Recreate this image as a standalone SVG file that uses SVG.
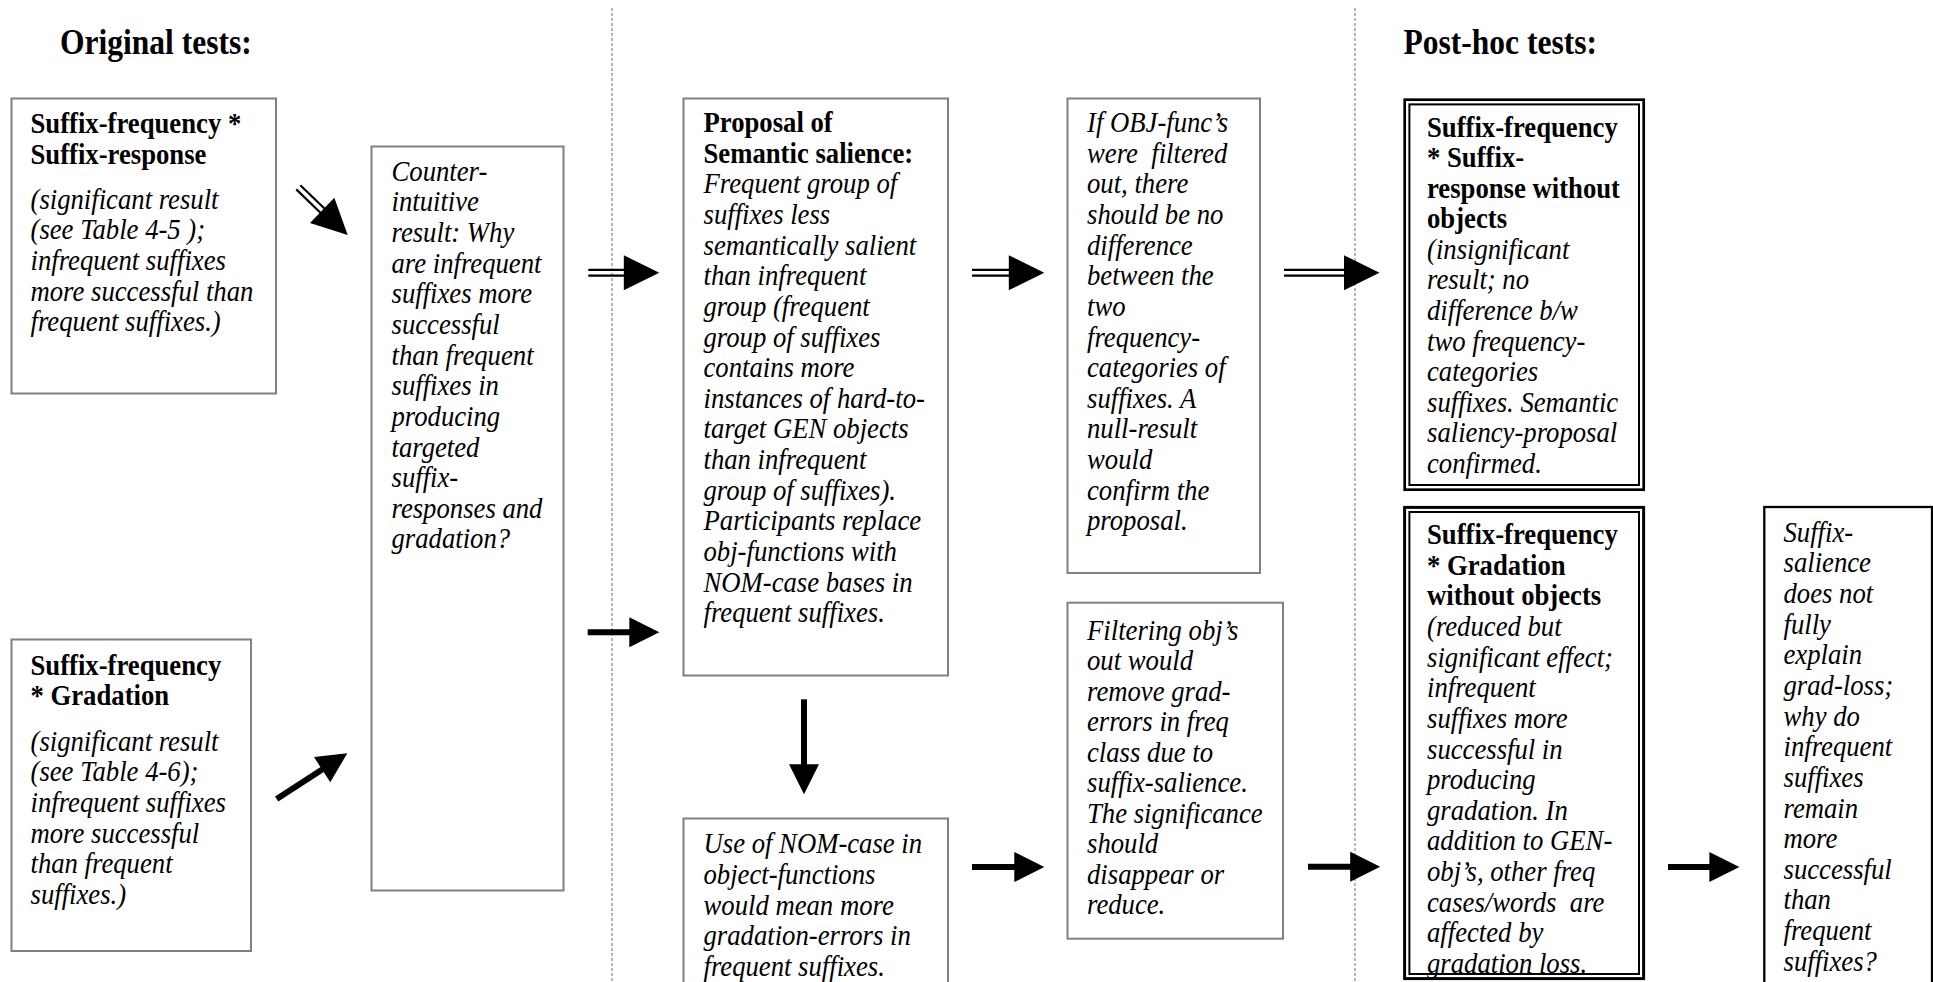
<svg xmlns="http://www.w3.org/2000/svg" xmlns:xlink="http://www.w3.org/1999/xlink" width="1933" height="982" viewBox="0 0 1933 982">
<style>
.box{fill:#fff;stroke:#808080;stroke-width:2}
.bx9{fill:#fff;stroke:#000;stroke-width:2.3}
.dbo{fill:#fff;stroke:#000;stroke-width:2.7}
.dbi{fill:none;stroke:#000;stroke-width:2}
.t{font-family:"Liberation Serif","Times New Roman",serif;font-size:29.9px;fill:#000}
.b{font-weight:bold}
.i{font-style:italic}
.title{font-family:"Liberation Serif","Times New Roman",serif;font-size:35.3px;font-weight:bold;fill:#000}
.div{stroke:#888;stroke-width:1.2;stroke-dasharray:3 2;fill:none}
.sh{stroke:#000;stroke-width:6}
.dl{stroke:#000;stroke-width:2.2}
.hd{fill:#000}
</style>
<defs>
<path id="h1" class="hd" d="M-30,-15 L0,0 L-30,15 Z"/>
<path id="h2" class="hd" d="M-35.5,-17.5 L0,0 L-35.5,17.5 Z"/>
</defs>
<rect width="1933" height="982" fill="#fff"/>
<g id="dividers">
<line class="div" x1="612" y1="8" x2="612" y2="982"/>
<line class="div" x1="1355" y1="8" x2="1355" y2="982"/>
</g>
<g id="titles">
<text class="title" transform="translate(60,0) scale(0.893,1)" x="0" y="54">Original tests:</text>
<text class="title" transform="translate(1403.5,0) scale(0.893,1)" x="0" y="54">Post-hoc tests:</text>
</g>
<g id="n1">
<rect class="box" x="11.5" y="98.5" width="264.5" height="295"/>
<text class="t" transform="translate(30.5,0) scale(0.893,1)"><tspan class="b" x="0" y="133.5">Suffix-frequency *</tspan><tspan class="b" x="0" y="164.2">Suffix-response</tspan><tspan class="i" x="0" y="208.7">(significant result</tspan><tspan class="i" x="0" y="239.4">(see Table 4-5 );</tspan><tspan class="i" x="0" y="270">infrequent suffixes</tspan><tspan class="i" x="0" y="300.7">more successful than</tspan><tspan class="i" x="0" y="331.3">frequent suffixes.)</tspan></text>
</g>
<g id="n2">
<rect class="box" x="11.5" y="639.5" width="239.5" height="311.5"/>
<text class="t" transform="translate(30.5,0) scale(0.893,1)"><tspan class="b" x="0" y="674.6">Suffix-frequency</tspan><tspan class="b" x="0" y="705.2">* Gradation</tspan><tspan class="i" x="0" y="750.6">(significant result</tspan><tspan class="i" x="0" y="781.3">(see Table 4-6);</tspan><tspan class="i" x="0" y="811.9">infrequent suffixes</tspan><tspan class="i" x="0" y="842.6">more successful</tspan><tspan class="i" x="0" y="873.2">than frequent</tspan><tspan class="i" x="0" y="903.9">suffixes.)</tspan></text>
</g>
<g id="n3">
<rect class="box" x="371.5" y="146.5" width="192" height="744"/>
<text class="t i" transform="translate(391.5,0) scale(0.893,1)"><tspan x="0" y="180.7">Counter-</tspan><tspan x="0" y="211.35">intuitive</tspan><tspan x="0" y="242">result: Why</tspan><tspan x="0" y="272.65">are infrequent</tspan><tspan x="0" y="303.3">suffixes more</tspan><tspan x="0" y="333.95">successful</tspan><tspan x="0" y="364.6">than frequent</tspan><tspan x="0" y="395.25">suffixes in</tspan><tspan x="0" y="425.9">producing</tspan><tspan x="0" y="456.55">targeted</tspan><tspan x="0" y="487.2">suffix-</tspan><tspan x="0" y="517.85">responses and</tspan><tspan x="0" y="548.5">gradation?</tspan></text>
</g>
<g id="n4">
<rect class="box" x="683.5" y="98.5" width="264.5" height="577"/>
<text class="t" transform="translate(703.5,0) scale(0.893,1)"><tspan class="b" x="0" y="132">Proposal of</tspan><tspan class="b" x="0" y="162.65">Semantic salience:</tspan><tspan class="i" x="0" y="193.3">Frequent group of</tspan><tspan class="i" x="0" y="223.95">suffixes less</tspan><tspan class="i" x="0" y="254.6">semantically salient</tspan><tspan class="i" x="0" y="285.25">than infrequent</tspan><tspan class="i" x="0" y="315.9">group (frequent</tspan><tspan class="i" x="0" y="346.55">group of suffixes</tspan><tspan class="i" x="0" y="377.2">contains more</tspan><tspan class="i" x="0" y="407.85">instances of hard-to-</tspan><tspan class="i" x="0" y="438.5">target GEN objects</tspan><tspan class="i" x="0" y="469.15">than infrequent</tspan><tspan class="i" x="0" y="499.8">group of suffixes).</tspan><tspan class="i" x="0" y="530.45">Participants replace</tspan><tspan class="i" x="0" y="561.1">obj-functions with</tspan><tspan class="i" x="0" y="591.75">NOM-case bases in</tspan><tspan class="i" x="0" y="622.4">frequent suffixes.</tspan></text>
</g>
<g id="n5">
<rect class="box" x="683.5" y="818.5" width="264.5" height="200"/>
<text class="t i" transform="translate(703.5,0) scale(0.893,1)"><tspan x="0" y="853.5">Use of NOM-case in</tspan><tspan x="0" y="884.15">object-functions</tspan><tspan x="0" y="914.8">would mean more</tspan><tspan x="0" y="945.45">gradation-errors in</tspan><tspan x="0" y="976.1">frequent suffixes.</tspan></text>
</g>
<g id="n6">
<rect class="box" x="1067.5" y="98.5" width="192.5" height="474.5"/>
<text class="t i" xml:space="preserve" transform="translate(1087,0) scale(0.893,1)"><tspan x="0" y="132">If OBJ-func’s</tspan><tspan x="0" y="162.65">were  filtered</tspan><tspan x="0" y="193.3">out, there</tspan><tspan x="0" y="223.95">should be no</tspan><tspan x="0" y="254.6">difference</tspan><tspan x="0" y="285.25">between the</tspan><tspan x="0" y="315.9">two</tspan><tspan x="0" y="346.55">frequency-</tspan><tspan x="0" y="377.2">categories of</tspan><tspan x="0" y="407.85">suffixes. A</tspan><tspan x="0" y="438.5">null-result</tspan><tspan x="0" y="469.15">would</tspan><tspan x="0" y="499.8">confirm the</tspan><tspan x="0" y="530.45">proposal.</tspan></text>
</g>
<g id="n7">
<rect class="box" x="1067.5" y="602.7" width="215.5" height="336"/>
<text class="t i" transform="translate(1087,0) scale(0.893,1)"><tspan x="0" y="640">Filtering obj’s</tspan><tspan x="0" y="670.5">out would</tspan><tspan x="0" y="701">remove grad-</tspan><tspan x="0" y="731.5">errors in freq</tspan><tspan x="0" y="762">class due to</tspan><tspan x="0" y="792.5">suffix-salience.</tspan><tspan x="0" y="823">The significance</tspan><tspan x="0" y="853.5">should</tspan><tspan x="0" y="884">disappear or</tspan><tspan x="0" y="914.5">reduce.</tspan></text>
</g>
<g id="n8">
<rect class="dbo" x="1404.7" y="99.7" width="239" height="390"/>
<rect class="dbi" x="1409.4" y="104.4" width="229.6" height="380.6"/>
<text class="t" transform="translate(1427,0) scale(0.893,1)"><tspan class="b" x="0" y="136.7">Suffix-frequency</tspan><tspan class="b" x="0" y="167.25">* Suffix-</tspan><tspan class="b" x="0" y="197.8">response without</tspan><tspan class="b" x="0" y="228.35">objects</tspan><tspan class="i" x="0" y="258.9">(insignificant</tspan><tspan class="i" x="0" y="289.45">result; no</tspan><tspan class="i" x="0" y="320">difference b/w</tspan><tspan class="i" x="0" y="350.55">two frequency-</tspan><tspan class="i" x="0" y="381.1">categories</tspan><tspan class="i" x="0" y="411.65">suffixes. Semantic</tspan><tspan class="i" x="0" y="442.2">saliency-proposal</tspan><tspan class="i" x="0" y="472.75">confirmed.</tspan></text>
</g>
<g id="n9">
<rect class="dbo" x="1404.7" y="507.3" width="239" height="471.4"/>
<text class="t" xml:space="preserve" transform="translate(1427,0) scale(0.893,1)"><tspan class="b" x="0" y="544">Suffix-frequency</tspan><tspan class="b" x="0" y="574.65">* Gradation</tspan><tspan class="b" x="0" y="605.3">without objects</tspan><tspan class="i" x="0" y="635.95">(reduced but</tspan><tspan class="i" x="0" y="666.6">significant effect;</tspan><tspan class="i" x="0" y="697.25">infrequent</tspan><tspan class="i" x="0" y="727.9">suffixes more</tspan><tspan class="i" x="0" y="758.55">successful in</tspan><tspan class="i" x="0" y="789.2">producing</tspan><tspan class="i" x="0" y="819.85">gradation. In</tspan><tspan class="i" x="0" y="850.5">addition to GEN-</tspan><tspan class="i" x="0" y="881.15">obj’s, other freq</tspan><tspan class="i" x="0" y="911.8">cases/words  are</tspan><tspan class="i" x="0" y="942.45">affected by</tspan><tspan class="i" x="0" y="973.1">gradation loss.</tspan></text>
<rect class="dbi" x="1409.4" y="512" width="229.6" height="462"/>
<rect x="1404.7" y="507.3" width="239" height="471.4" fill="none" stroke="#000" stroke-width="2.7"/>
</g>
<g id="n10">
<rect class="bx9" x="1764.3" y="507" width="167.7" height="490"/>
<text class="t i" transform="translate(1783.5,0) scale(0.893,1)"><tspan x="0" y="541.7">Suffix-</tspan><tspan x="0" y="572.35">salience</tspan><tspan x="0" y="603">does not</tspan><tspan x="0" y="633.65">fully</tspan><tspan x="0" y="664.3">explain</tspan><tspan x="0" y="694.95">grad-loss;</tspan><tspan x="0" y="725.6">why do</tspan><tspan x="0" y="756.25">infrequent</tspan><tspan x="0" y="786.9">suffixes</tspan><tspan x="0" y="817.55">remain</tspan><tspan x="0" y="848.2">more</tspan><tspan x="0" y="878.85">successful</tspan><tspan x="0" y="909.5">than</tspan><tspan x="0" y="940.15">frequent</tspan><tspan x="0" y="970.8">suffixes?</tspan></text>
</g>
<g id="connectors">
<g transform="translate(347.7,235) rotate(44)"><line class="dl" x1="-68.7" y1="-2.9" x2="-34" y2="-2.9"/><line class="dl" x1="-68.7" y1="2.9" x2="-34" y2="2.9"/><use xlink:href="#h2"/></g>
<g transform="translate(659.3,272.8)"><line class="dl" x1="-71" y1="-2.9" x2="-34" y2="-2.9"/><line class="dl" x1="-71" y1="2.9" x2="-34" y2="2.9"/><use xlink:href="#h2"/></g>
<g transform="translate(1044.3,272.7)"><line class="dl" x1="-72.3" y1="-2.9" x2="-34" y2="-2.9"/><line class="dl" x1="-72.3" y1="2.9" x2="-34" y2="2.9"/><use xlink:href="#h2"/></g>
<g transform="translate(1379.5,272.7)"><line class="dl" x1="-95.5" y1="-2.9" x2="-34" y2="-2.9"/><line class="dl" x1="-95.5" y1="2.9" x2="-34" y2="2.9"/><use xlink:href="#h2"/></g>
<g transform="translate(347.3,753.3) rotate(-32.9)"><line class="sh" x1="-84.1" y1="0" x2="-29" y2="0"/><use xlink:href="#h1"/></g>
<g transform="translate(659.3,632.3)"><line class="sh" x1="-71.6" y1="0" x2="-29" y2="0"/><use xlink:href="#h1"/></g>
<g transform="translate(804,794.3) rotate(90)"><line class="sh" x1="-95" y1="0" x2="-29" y2="0"/><use xlink:href="#h1"/></g>
<g transform="translate(1044.3,867)"><line class="sh" x1="-72.3" y1="0" x2="-29" y2="0"/><use xlink:href="#h1"/></g>
<g transform="translate(1380.2,866.7)"><line class="sh" x1="-72.2" y1="0" x2="-29" y2="0"/><use xlink:href="#h1"/></g>
<g transform="translate(1739.4,867)"><line class="sh" x1="-71.4" y1="0" x2="-29" y2="0"/><use xlink:href="#h1"/></g>
</g>
</svg>
